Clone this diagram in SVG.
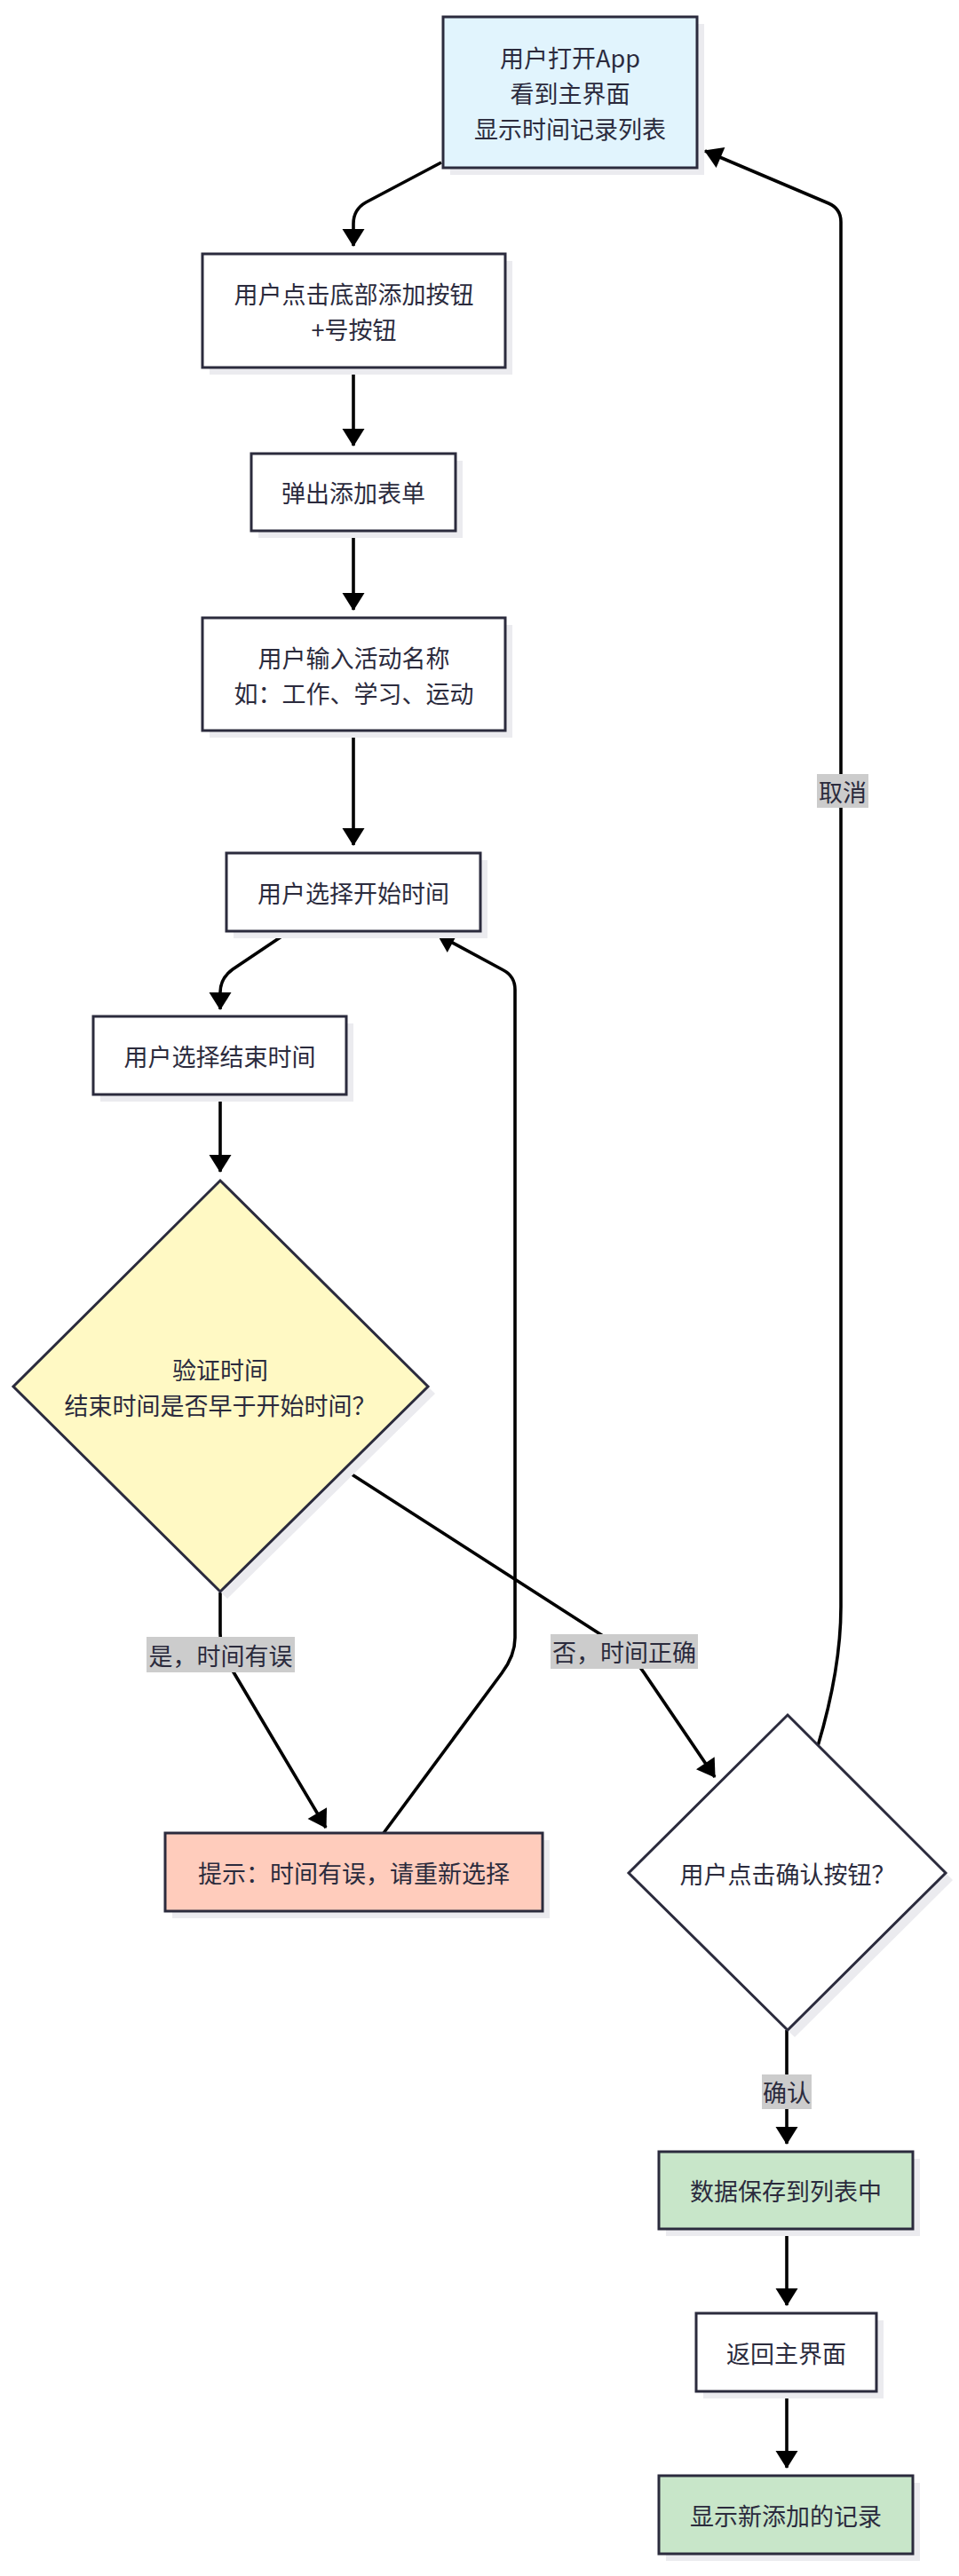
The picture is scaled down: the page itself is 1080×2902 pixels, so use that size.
<svg xmlns="http://www.w3.org/2000/svg" width="1080" height="2902" viewBox="0 0 1080 2902">
<defs>
<marker id="ah" markerUnits="userSpaceOnUse" markerWidth="22" markerHeight="26" refX="19" refY="12.5" orient="auto" overflow="visible">
<path d="M0,0 L20,12.5 L0,25 z" fill="#000"/>
</marker>
<style>
.sh{fill:#ebebef;stroke:none}
.n{stroke:#2b2b3d;stroke-width:3}
.w{fill:#ffffff}
.blue{fill:#e1f4fd}
.yel{fill:#fff9c4}
.red{fill:#ffccbc}
.grn{fill:#c8e6c9}
.t{font-family:"Noto Sans CJK SC","Noto Sans",sans-serif;font-size:27px;fill:#2b2b3d;text-anchor:middle;dominant-baseline:central}
.e{fill:none;stroke:#000;stroke-width:3.6;marker-end:url(#ah)}
.lb{fill:#cccccc}
</style>
</defs>
<rect width="1080" height="2902" fill="#ffffff"/>

<g id="edges">
<path class="e" d="M497 183 L412 228 Q398 236 398 252 L398 277"/>
<path class="e" d="M398 414 L398 502"/>
<path class="e" d="M398 598 L398 687"/>
<path class="e" d="M398 823 L398 952"/>
<path class="e" d="M326 1049 L262 1092 Q248 1102 248 1118 L248 1137"/>
<path class="e" d="M248 1233 L248 1320"/>
<path class="e" d="M248 1794 L248 1840 Q248 1858 256 1872 L367 2059"/>
<path class="e" d="M432 2065 L565 1885 Q580 1865 580 1845 L580 1115 Q580 1100 567 1093 L493 1053"/>
<path class="e" d="M390 1657 L690 1850 Q712 1864 725 1884 L805 2002"/>
<path class="e" d="M921 1967 Q947 1880 947 1810 L947 250 Q947 235 933 229 L794 170"/>
<path class="e" d="M886 2287 L886 2415"/>
<path class="e" d="M886 2511 L886 2597"/>
<path class="e" d="M886 2694 L886 2780"/>
<g id="edge-labels">
<rect class="lb" x="165" y="1844" width="167" height="40"/>
<text class="t" x="248.5" y="1864">是，时间有误</text>
<rect class="lb" x="620" y="1841" width="166" height="39"/>
<text class="t" x="703" y="1860.5">否，时间正确</text>
<rect class="lb" x="920" y="872" width="58" height="38"/>
<text class="t" x="949" y="891">取消</text>
<rect class="lb" x="858" y="2337" width="56" height="39"/>
<text class="t" x="886" y="2356.5">确认</text>
</g>
</g>

<g id="n-open">
<rect class="sh" x="507" y="27" width="286" height="170"/>
<rect class="n blue" x="499" y="19" width="286" height="170"/>
<text class="t" x="642" y="64">用户打开App</text>
<text class="t" x="642" y="104">看到主界面</text>
<text class="t" x="642" y="144">显示时间记录列表</text>
</g>

<g id="n-click-add">
<rect class="sh" x="236" y="294" width="341" height="128"/>
<rect class="n w" x="228" y="286" width="341" height="128"/>
<text class="t" x="398.5" y="330">用户点击底部添加按钮</text>
<text class="t" x="398.5" y="370">+号按钮</text>
</g>

<g id="n-form">
<rect class="sh" x="291" y="519" width="230" height="87"/>
<rect class="n w" x="283" y="511" width="230" height="87"/>
<text class="t" x="398" y="554.5">弹出添加表单</text>
</g>

<g id="n-input">
<rect class="sh" x="236" y="704" width="341" height="127"/>
<rect class="n w" x="228" y="696" width="341" height="127"/>
<text class="t" x="398.5" y="740">用户输入活动名称</text>
<text class="t" x="398.5" y="780">如：工作、学习、运动</text>
</g>

<g id="n-start">
<rect class="sh" x="263" y="969" width="286" height="88"/>
<rect class="n w" x="255" y="961" width="286" height="88"/>
<text class="t" x="398" y="1005">用户选择开始时间</text>
</g>

<g id="n-end">
<rect class="sh" x="113" y="1153" width="285" height="88"/>
<rect class="n w" x="105" y="1145" width="285" height="88"/>
<text class="t" x="247.5" y="1189">用户选择结束时间</text>
</g>

<g id="n-validate">
<polygon class="sh" points="256,1338 490,1570 256,1801 23,1570"/>
<polygon class="n yel" points="248,1330 482,1562 248,1793 15,1562"/>
<text class="t" x="248" y="1542">验证时间</text>
<text class="t" x="248" y="1582">结束时间是否早于开始时间？</text>
</g>

<g id="n-error">
<rect class="sh" x="194" y="2073" width="425" height="88"/>
<rect class="n red" x="186" y="2065" width="425" height="88"/>
<text class="t" x="398.5" y="2109">提示：时间有误，请重新选择</text>
</g>

<g id="n-confirm">
<polygon class="sh" points="895,1940 1073,2118 895,2295 716,2118"/>
<polygon class="n w" points="887,1932 1065,2110 887,2287 708,2110"/>
<text class="t" x="887" y="2110">用户点击确认按钮？</text>
</g>

<g id="n-save">
<rect class="sh" x="750" y="2432" width="286" height="87"/>
<rect class="n grn" x="742" y="2424" width="286" height="87"/>
<text class="t" x="885" y="2467.5">数据保存到列表中</text>
</g>

<g id="n-return">
<rect class="sh" x="792" y="2614" width="203" height="88"/>
<rect class="n w" x="784" y="2606" width="203" height="88"/>
<text class="t" x="885.5" y="2650">返回主界面</text>
</g>

<g id="n-show">
<rect class="sh" x="750" y="2797" width="286" height="88"/>
<rect class="n grn" x="742" y="2789" width="286" height="88"/>
<text class="t" x="885" y="2833">显示新添加的记录</text>
</g>
</svg>
